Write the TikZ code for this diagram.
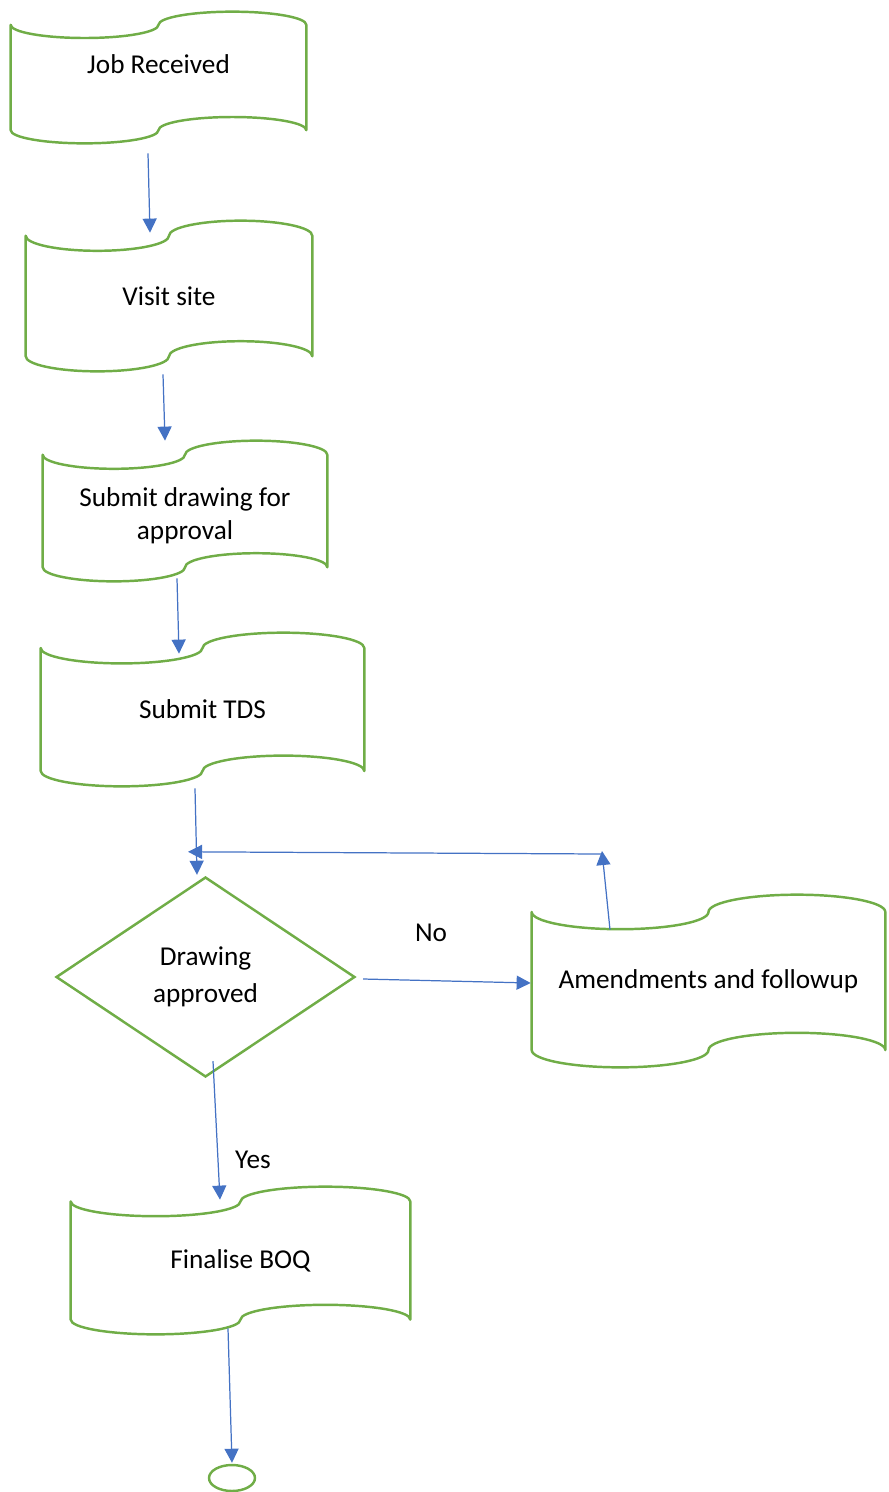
\documentclass[tikz,border=0pt]{standalone}
\usepackage{fontspec}
\setmainfont{Carlito}
\usepackage{tikz}
\usetikzlibrary{arrows.meta,shapes.geometric,calc}
\usetikzlibrary{positioning}
\definecolor{shapegreen}{HTML}{70AD47}
\definecolor{flowblue}{HTML}{4472C4}
\tikzset{
    tapebox/.style={
           rectangle,
           draw=none,
           inner sep=2pt,
           align=center,
           font=\fontsize{15.5pt}{19pt}\selectfont,
           },
    decision/.style={
           diamond,
           draw=shapegreen,
           line width=1.4pt,
           inner sep=0pt,
           align=center,
           font=\fontsize{15.5pt}{19pt}\selectfont,
           },
    terminal/.style={
           ellipse,
           draw=shapegreen,
           line width=1.4pt,
           minimum width=0.92cm,
           minimum height=0.52cm,
           inner sep=0pt,
           },
    flow/.style={-{Triangle[length=8pt,width=8pt]}, draw=flowblue, line width=0.7pt},
    lbl/.style={font=\fontsize{15.5pt}{19pt}\selectfont},
}
% punched tape outline round a named node
\newcommand{\tapeoutline}[1]{%
  \draw[draw=shapegreen, line width=1.4pt, line join=round]
    let \p1=(#1.north west), \p2=(#1.south east),
        \n1={(\x2-\x1)/4}, \n2={(\y1-\y2)/10} in
    (\x1,\y1-\n2)
      arc[start angle=180, end angle=360, x radius=\n1, y radius=\n2]
      arc[start angle=180, end angle=0, x radius=\n1, y radius=\n2]
      -- (\x2,\y2+\n2)
      arc[start angle=0, end angle=180, x radius=\n1, y radius=\n2]
      arc[start angle=0, end angle=-180, x radius=\n1, y radius=\n2]
      -- cycle;}

\begin{document}
\begin{tikzpicture}[x=0.02cm,y=-0.02cm]
 \useasboundingbox (0,0) rectangle (889,1492);

 \node[tapebox, minimum width=5.9cm, minimum height=2.62cm, text depth=0.55cm] (JOB)
   at (158.5,77.5) {Job Received};
 \node[tapebox, minimum width=5.72cm, minimum height=3cm] (VISIT)
   at (169,296) {Visit site};
 \node[tapebox, minimum width=5.68cm, minimum height=2.8cm, text height=1.24cm] (SUBMIT)
   at (185,511) {Submit drawing for\\approval};
 \node[tapebox, minimum width=6.46cm, minimum height=3.06cm] (TDS)
   at (202.5,709.5) {Submit TDS};
 \node[decision, minimum width=5.98cm, minimum height=4cm] (APPROVED)
   at (205.5,977) {Drawing\\[2pt]approved};
 \node[tapebox, minimum width=7.06cm, minimum height=3.44cm] (AMEND)
   at (708.5,981) {Amendments and followup};
 \node[tapebox, minimum width=6.78cm, minimum height=2.94cm] (BOQ)
   at (240.5,1260.5) {Finalise BOQ};
 \node[terminal] (END) at (232,1478) {};

 \foreach \tapename in {JOB,VISIT,SUBMIT,TDS,AMEND,BOQ}
   \tapeoutline{\tapename};

 \coordinate (LOOP) at (602,851);

 \node[lbl] (NO) at (431,933) {No};
 \node[lbl] (YES) at (253,1160) {Yes};

 \draw[flow] ([shift={(-10.5,10)}]JOB.south) -- ([shift={(-19,12)}]VISIT.north);
 \draw[flow] ([shift={(-6,3)}]VISIT.south) -- ([shift={(-20,0)}]SUBMIT.north);
 \draw[flow] ([shift={(-8,-3)}]SUBMIT.south) -- ([shift={(-23.5,21)}]TDS.north);
 \draw[flow] ([shift={(-7.5,2)}]TDS.south) -- ([shift={(-8.5,-1)}]APPROVED.north);
 \draw[flow] ([shift={(7,2)}]APPROVED.east) -- ([shift={(-1,2)}]AMEND.west);
 \draw[flow] ([shift={(-98.5,35)}]AMEND.north) -- (LOOP);
 \draw[flow] ([shift={(0,3)}]LOOP) -- ([shift={(-17.5,-24)}]APPROVED.north);
 \draw[flow] ([shift={(7.5,-17)}]APPROVED.south) -- ([shift={(-20.5,13)}]BOQ.north);
 \draw[flow] ([shift={(-12.5,-6)}]BOQ.south) -- ([shift={(0,-1)}]END.north);
\end{tikzpicture}
\end{document}
